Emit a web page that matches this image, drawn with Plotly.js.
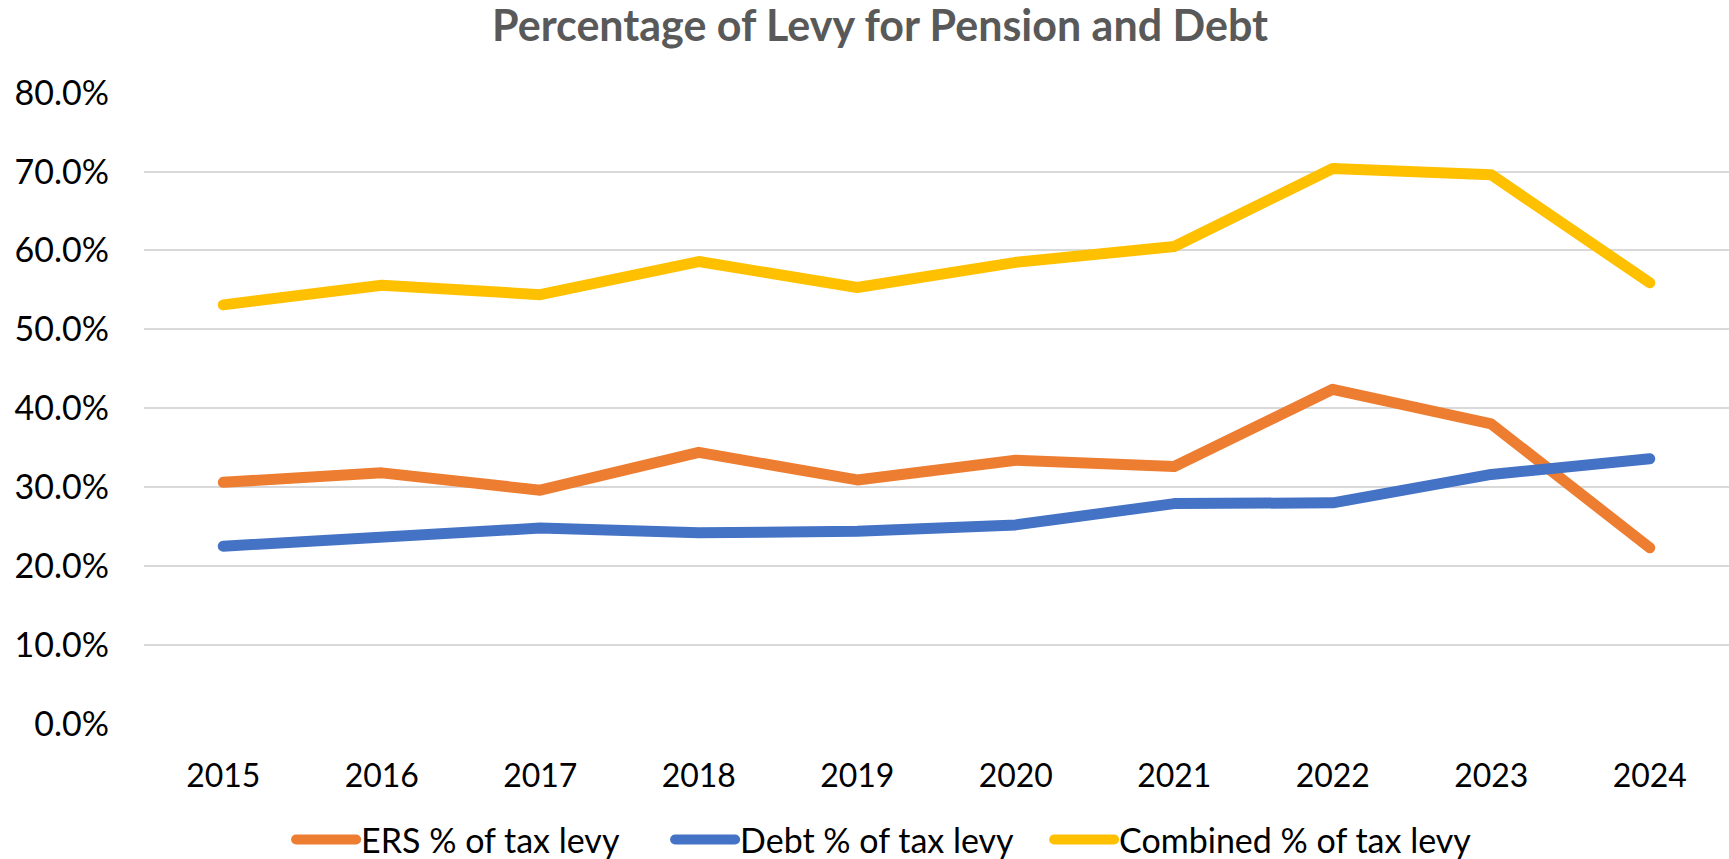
<!DOCTYPE html>
<html>
<head>
<meta charset="utf-8">
<script src="https://cdn.plot.ly/plotly-3.0.1.min.js"></script>
<style>
html,body{margin:0;padding:0;background:#fff;}
#chart{width:1729px;height:859px;}
.js-line{stroke-linecap:round;stroke-linejoin:round;}
g.legend g.scrollbox{clip-path:none !important;}
</style>
</head>
<body>
<div id="chart"></div>
<script>
const years = ["2015","2016","2017","2018","2019","2020","2021","2022","2023","2024"];
const ersPct = [30.6, 31.8, 29.6, 34.4, 30.9, 33.4, 32.6, 42.4, 38.0, 22.3];
const debtPct = [22.5, 23.8, 24.8, 24.2, 24.4, 25.2, 27.9, 28.0, 31.6, 33.6];
const combinedPct = [53.1, 55.6, 54.4, 58.6, 55.3, 58.5, 60.5, 70.4, 69.6, 55.9];
const seriesNames = ["ERS % of tax levy", "Debt % of tax levy", "Combined % of tax levy"];
const yTicks = [0, 10, 20, 30, 40, 50, 60, 70, 80];
const yTickLabels = yTicks.map(v => v.toFixed(1) + "%");

const colors = ["#ED7D31", "#4472C4", "#FFC000"];
const FONT = "Lato, 'Open Sans', sans-serif";

const traces = [ersPct, debtPct, combinedPct].map((vals, i) => ({
  x: years,
  y: vals,
  name: seriesNames[i],
  type: "scatter",
  mode: "lines",
  line: {color: colors[i], width: 11},
  hoverinfo: "x+y+name"
}));

const layout = {
  width: 1729,
  height: 859,
  paper_bgcolor: "#ffffff",
  plot_bgcolor: "#ffffff",
  margin: {l: 144, r: 0, t: 92, b: 135, autoexpand: false},
  title: {
    text: "<b>Percentage of Levy for Pension and Debt</b>",
    font: {family: FONT, size: 43, color: "#595959"},
    x: 0.509, xanchor: "center",
    y: 0.9697, yanchor: "middle"
  },
  xaxis: {
    type: "category",
    range: [-0.5, 9.5],
    showgrid: false,
    zeroline: false,
    showline: false,
    ticks: "",
    ticklabelstandoff: 30,
    tickfont: {family: FONT, size: 32, color: "#000000"},
    fixedrange: true
  },
  yaxis: {
    range: [-0.05, 80.1],
    tickvals: yTicks,
    ticktext: yTickLabels,
    showgrid: true,
    gridcolor: "#D9D9D9",
    gridwidth: 2,
    zeroline: false,
    showline: false,
    ticks: "",
    ticklabelstandoff: 34,
    tickfont: {family: FONT, size: 34, color: "#000000"},
    fixedrange: true
  },
  showlegend: true,
  legend: {
    orientation: "h",
    x: 0.0928, xanchor: "left",
    y: -0.1835, yanchor: "middle",
    font: {family: FONT, size: 34, color: "#000000"},
    itemwidth: 60,
    entrywidth: 304,
    entrywidthmode: "pixels",
    tracegroupgap: 0
  }
};

Plotly.newPlot("chart", traces, layout, {displayModeBar: false, staticPlot: true});
</script>
</body>
</html>
